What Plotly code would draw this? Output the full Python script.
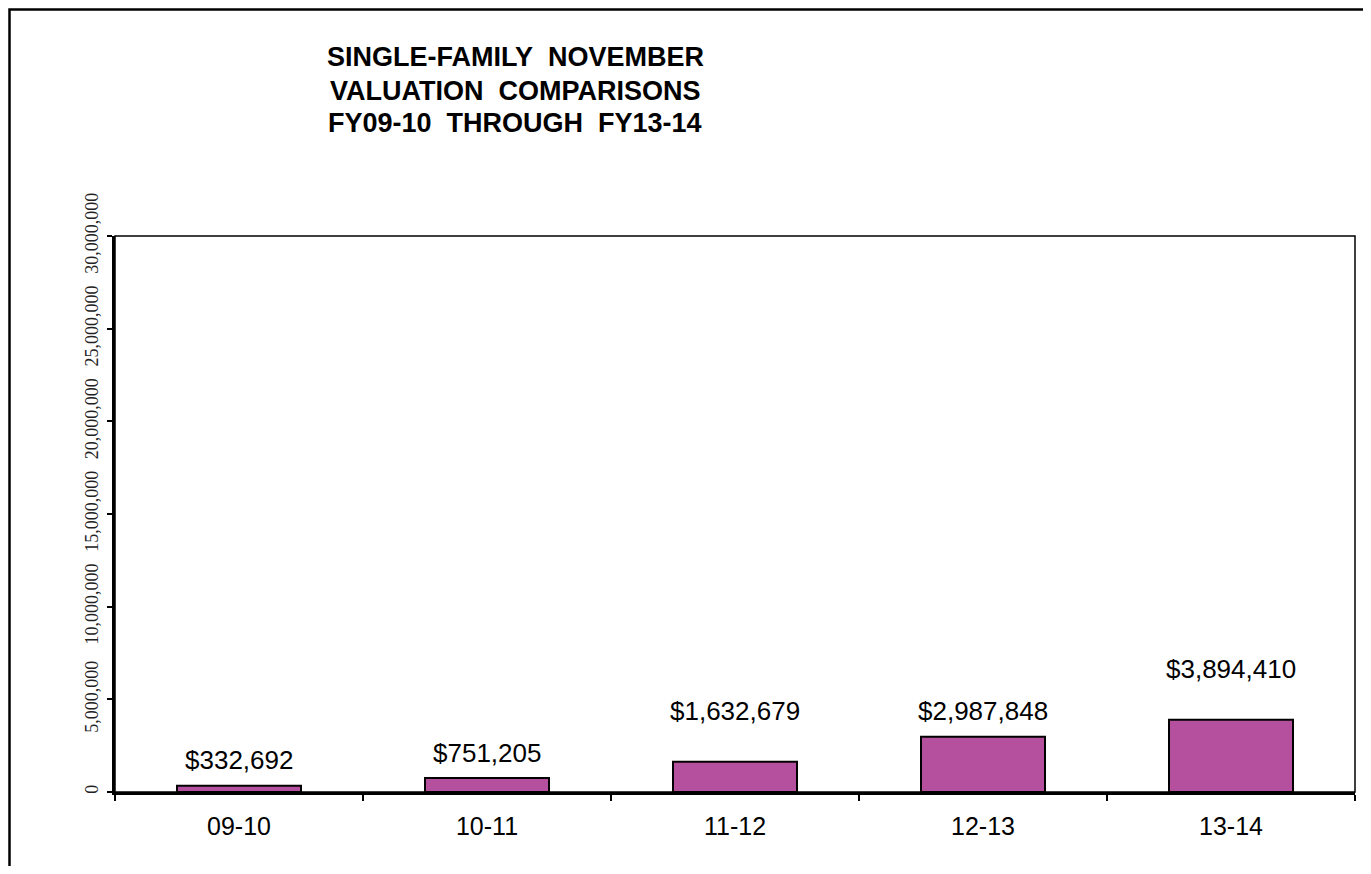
import plotly.graph_objects as go

# Fiscal years and November single-family valuations
years = ["09-10", "10-11", "11-12", "12-13", "13-14"]
valuations = [332692, 751205, 1632679, 2987848, 3894410]

# Where the value labels sit (in data units, as placed in the original chart)
label_y = [1727000, 2104000, 4371000, 4371000, 6637000]

title_lines = [
    "SINGLE-FAMILY\u00a0 NOVEMBER",
    "VALUATION\u00a0 COMPARISONS",
    "FY09-10\u00a0 THROUGH\u00a0 FY13-14",
]

# the page body adds an 8px margin, so the figure is drawn 8px in
OFF = 8
W, H = 1371 - OFF, 874 - 2 * OFF
L, T = 115 - OFF, 236 - OFF
plot_w, plot_h = 1240, 556
R = W - L - plot_w
B = H - T - plot_h


def px_x(x):
    # page pixel -> paper x
    return (x - OFF - L) / plot_w


def px_y(y):
    # page pixel -> paper y
    return (T + plot_h - (y - OFF)) / plot_h


fig = go.Figure()

fig.add_trace(go.Bar(
    x=years,
    y=valuations,
    width=0.5,
    marker=dict(color="#B5509F", line=dict(color="black", width=2)),
    hoverinfo="x+y",
))

annotations = []
for yr, val, ly in zip(years, valuations, label_y):
    annotations.append(dict(
        x=yr, y=ly, xref="x", yref="y",
        text="${:,}".format(val),
        showarrow=False,
        yanchor="middle",
        font=dict(family="Arial, Liberation Sans", size=26, color="black"),
    ))

for line, ypx in zip(title_lines, [57, 91, 123]):
    annotations.append(dict(
        x=px_x(515), y=px_y(ypx), xref="paper", yref="paper",
        text="<b>" + line + "</b>",
        showarrow=False,
        xanchor="center", yanchor="middle",
        font=dict(family="Arial, Liberation Sans", size=27, color="black"),
    ))

fig.update_layout(
    width=W,
    height=H,
    margin=dict(l=L, r=R, t=T, b=B, pad=0),
    plot_bgcolor="white",
    paper_bgcolor="white",
    showlegend=False,
    annotations=annotations,
    shapes=[
        # outer chart frame (left edge sits at the very edge of the figure)
        dict(type="rect", xref="paper", yref="paper",
             x0=px_x(OFF + 1.5), x1=px_x(1368.5), y0=px_y(900), y1=px_y(OFF + 1.5),
             line=dict(color="black", width=2.5), layer="below"),
        # plot area border
        dict(type="rect", xref="paper", yref="paper",
             x0=0, x1=1, y0=0, y1=1,
             line=dict(color="black", width=1.5), layer="below"),
    ],
)

fig.update_xaxes(
    type="category",
    showline=True,
    linecolor="black",
    linewidth=2.5,
    ticks="outside",
    tickson="boundaries",
    ticklen=6,
    tickwidth=1.5,
    tickcolor="black",
    showgrid=False,
    ticklabelstandoff=10,
    tickfont=dict(family="Arial, Liberation Sans", size=25, color="black"),
)

fig.update_yaxes(
    range=[0, 30000000],
    dtick=5000000,
    tickformat=",d",
    tickangle=-90,
    showline=True,
    linecolor="black",
    linewidth=2.5,
    ticks="outside",
    ticklen=5,
    tickwidth=1.5,
    tickcolor="black",
    showgrid=False,
    zeroline=False,
    ticklabelstandoff=2,
    tickfont=dict(family="Liberation Serif, Times New Roman", size=18, color="#222222"),
)

fig.write_html("out.html")
